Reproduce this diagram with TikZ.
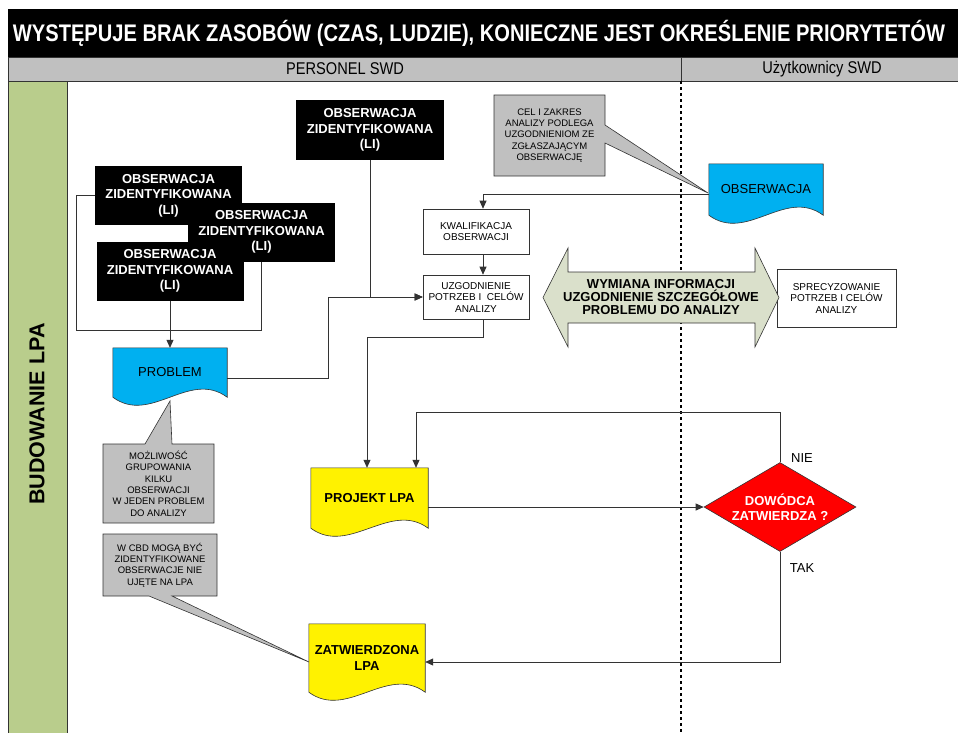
\documentclass[tikz,border=0pt]{standalone}
\usepackage{fontspec}
\setmainfont{Liberation Sans}
\usepackage{xcolor}
\usepackage{tikz}
\usetikzlibrary{arrows.meta,shapes.geometric,backgrounds}

\definecolor{lanegreen}{RGB}{185,205,140}
\definecolor{headgray}{RGB}{192,192,192}
\definecolor{notegray}{RGB}{192,192,192}
\definecolor{docblue}{RGB}{0,176,240}
\definecolor{arrowgreen}{RGB}{218,224,203}

\tikzset{
    blackbox/.style={fill=black, text=white, font=\fontsize{13}{15.5}\selectfont\bfseries, align=center, minimum width=147pt, minimum height=59pt, inner sep=0pt},
    whitebox/.style={draw=black!80, fill=white, line width=0.6pt, font=\fontsize{10}{11.5}\selectfont, align=center, inner sep=0pt},
    notetext/.style={font=\fontsize{9.5}{11.4}\selectfont, align=center, inner sep=0pt},
    docnode/.style={font=\fontsize{13}{15.5}\selectfont, align=center, inner sep=0pt},
    notebox/.style={fill=notegray, draw=black!80, line width=0.6pt},
    arr/.style={draw=black!80, line width=0.8pt, -{Triangle[length=8pt,width=7pt]}},
    link/.style={draw=black!80, line width=0.8pt},
}

% 文档形状（下边为波浪线）
\newcommand{\docshape}[2]{\filldraw[fill=#2, draw=black!80, line width=0.6pt] (#1.north west) -- (#1.north east) -- (#1.south east) .. controls +(-38,-28) and +(38,28) .. (#1.south west) -- cycle;}

\begin{document}
\begin{tikzpicture}[x=1pt, y=-1pt]
            \useasboundingbox (0,0) rectangle (958,732);
            %绘制标题栏和泳道
            \fill[black] (8,9) rectangle (958,57);
            \node[text=white, font=\fontsize{24}{28}\selectfont\bfseries] (title) at (479,33) {\resizebox{932pt}{\height}{WYSTĘPUJE BRAK ZASOBÓW (CZAS, LUDZIE), KONIECZNE JEST OKREŚLENIE PRIORYTETÓW}};
            \filldraw[fill=headgray, draw=black!80, line width=0.8pt] (8,57) rectangle (958,81);
            \draw[black!80, line width=0.8pt] (681,57) -- (681,81);
            \node[font=\fontsize{17}{20}\selectfont] (hdrA) at (345,69) {\scalebox{0.86}[1]{PERSONEL SWD}};
            \node[font=\fontsize{17}{20}\selectfont] (hdrB) at (822,69) {\scalebox{0.86}[1]{Użytkownicy SWD}};
            \filldraw[fill=lanegreen, draw=black!80, line width=0.8pt] (8,81) rectangle (67,733);
            \node[rotate=90, font=\fontsize{21.5}{24}\selectfont\bfseries] (lane) at (37,414) {BUDOWANIE LPA};

            %绘制虚线分隔线
            \draw[line width=2.6pt, dash pattern=on 3pt off 3pt] (681,81) -- (681,733);

            %绘制三个重叠的黑色框
            \foreach \n/\x/\y in {obsA/168.5/195.5, obsB/261.5/232, obsC/170/271}{
                \node[blackbox] (\n) at (\x,\y) {OBSERWACJA\\ZIDENTYFIKOWANA\\(LI)};
            }
            \node[blackbox, minimum width=148pt, minimum height=60pt] (obsTop) at (370,130) {OBSERWACJA\\ZIDENTYFIKOWANA\\(LI)};

            %绘制白色流程框
            \node[whitebox, minimum width=106pt, minimum height=45pt] (kwal) at (476,231.5) {KWALIFIKACJA\\OBSERWACJI};
            \node[whitebox, minimum width=106pt, minimum height=44pt] (uzg) at (476,297) {UZGODNIENIE\\POTRZEB I\ \ CELÓW\\ANALIZY};
            \node[whitebox, minimum width=119pt, minimum height=58pt] (spr) at (836.5,298) {SPRECYZOWANIE\\POTRZEB I CELÓW\\ANALIZY};

            %绘制文档形状
            \node[docnode, minimum width=114pt, minimum height=51pt] (obsdoc) at (766,189.5) {OBSERWACJA};
            \node[docnode, minimum width=114pt, minimum height=49pt] (prob) at (170,372.5) {PROBLEM};
            \node[docnode, font=\fontsize{13}{15.5}\selectfont\bfseries, minimum width=117pt, minimum height=60pt] (proj) at (369.5,498) {PROJEKT LPA};
            \node[docnode, font=\fontsize{13}{15.5}\selectfont\bfseries, minimum width=116pt, minimum height=68pt] (zatw) at (367,658) {ZATWIERDZONA\\LPA};
            \begin{scope}[on background layer]
                \docshape{obsdoc}{docblue}
                \docshape{prob}{docblue}
                \docshape{proj}{yellow}
                \docshape{zatw}{yellow}
            \end{scope}

            %绘制判断框
            \node[diamond, fill=red, draw=black!80, line width=0.6pt, shape aspect=1.7, minimum width=152pt, minimum height=89pt, inner sep=0pt, text=white, font=\fontsize{13}{15.5}\selectfont\bfseries, align=center] (dec) at (780,507) {DOWÓDCA\\ZATWIERDZA ?};
            \node[font=\fontsize{13}{15.5}\selectfont] (nie) at (802,458) {NIE};
            \node[font=\fontsize{13}{15.5}\selectfont] (tak) at (802,568) {TAK};

            %绘制双向箭头
            \filldraw[fill=arrowgreen, draw=black!80, line width=0.6pt] (543,297.5) -- (568,248) -- (568,272) -- (755,272) -- (755,248) -- (779,297.5) -- (755,347) -- (755,323) -- (568,323) -- (568,347) -- cycle;
            \node[font=\fontsize{13}{12.6}\selectfont\bfseries, align=center] (wymiana) at (661,297) {WYMIANA INFORMACJI\\UZGODNIENIE SZCZEGÓŁOWE\\PROBLEMU DO ANALIZY};

            %绘制注释框
            \filldraw[notebox] (494,95) -- (605,95) -- (605,125) -- (708,193) -- (605,143) -- (605,176) -- (494,176) -- cycle;
            \node[notetext] (celNote) at (549.5,135.5) {CEL I ZAKRES\\ANALIZY PODLEGA\\UZGODNIENIOM ZE\\ZGŁASZAJĄCYM\\OBSERWACJĘ};
            \filldraw[notebox] (103,444) -- (145,444) -- (170,401) -- (172,444) -- (214,444) -- (214,523) -- (103,523) -- cycle;
            \node[notetext] (mozNote) at (158.5,483.5) {MOŻLIWOŚĆ\\GRUPOWANIA\\KILKU\\OBSERWACJI\\W JEDEN PROBLEM\\DO ANALIZY};
            \filldraw[notebox] (103,534) -- (217,534) -- (217,596) -- (172,596) -- (309,662) -- (149,596) -- (103,596) -- cycle;
            \node[notetext] (cbdNote) at (160,565) {W CBD MOGĄ BYĆ\\ZIDENTYFIKOWANE\\OBSERWACJE NIE\\UJĘTE NA LPA};

            %绘制连线
            \draw[link] (obsA.west) -- ++(-18,0) -- ++(0,135) -| (obsB.south);
            \draw[arr] (obsC.south) -- (prob.north);
            \draw[arr] (obsTop.south) |- (uzg.west);
            \draw[arr] ([yshift=-6pt]prob.east) -- ++(101,0) |- (uzg.west);
            \draw[arr] ([yshift=-4.5pt]obsdoc.west) -| ([xshift=7pt]kwal.north);
            \draw[arr] ([xshift=7pt]kwal.south) -- ([xshift=7pt]uzg.north);
            \draw[arr] ([xshift=7pt]uzg.south) -- ++(0,18) -| ([xshift=-2.5pt]proj.north);
            \draw[arr] (dec.north) -- ++(0,-50) -| ([xshift=46.5pt]proj.north);
            \draw[arr] (proj.east |- dec.west) -- (dec.west);
            \draw[arr] (dec.south) |- ([yshift=-4pt]zatw.east);
        \end{tikzpicture}
\end{document}
